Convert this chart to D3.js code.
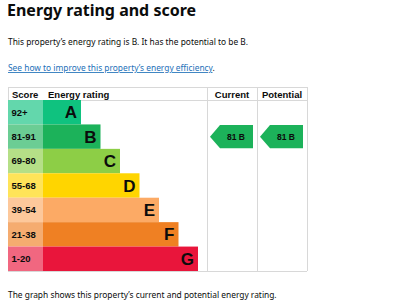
<!DOCTYPE html>
<html>
<head>
<meta charset="utf-8">
<script src="https://cdn.jsdelivr.net/npm/d3@7"></script>
<style>
  body { margin: 0; background: #fff; }
  svg { display: block; }
</style>
</head>
<body>
<svg id="chart" width="399" height="300"></svg>
<script>
const ratings = ["A", "B", "C", "D", "E", "F", "G"];
const scoreRanges = ["92+", "81-91", "69-80", "55-68", "39-54", "21-38", "1-20"];
const bandColors = ["#0fc27f", "#1cb25a", "#8dce46", "#ffd500", "#fcaa65", "#ef8023", "#e9153b"];
const columns = ["Current", "Potential"];
const currentScore = 81;
const potentialScore = 81;
const scoreMins = [92, 81, 69, 55, 39, 21, 1];

const svg = d3.select("#chart");
const font = "'Liberation Sans', Arial, sans-serif";
const bodyFont = "'Noto Sans', sans-serif";

// page text
svg.append("text")
    .attr("x", 7).attr("y", 16)
    .style("font", "bold 16px " + bodyFont)
    .attr("fill", "#0b0c0c")
    .text("Energy rating and score");

svg.append("text")
    .attr("x", 8).attr("y", 45)
    .style("font", "8.4px " + bodyFont)
    .attr("fill", "#0b0c0c")
    .text("This property\u2019s energy rating is B. It has the potential to be B.");

const link = svg.append("text")
    .attr("x", 8).attr("y", 71)
    .style("font", "8.4px " + bodyFont);
link.append("tspan")
    .attr("fill", "#1d70b8")
    .attr("text-decoration", "underline")
    .text("See how to improve this property\u2019s energy efficiency");
link.append("tspan").attr("fill", "#0b0c0c").text(".");

svg.append("text")
    .attr("x", 8).attr("y", 298)
    .style("font", "8.4px " + bodyFont)
    .attr("fill", "#0b0c0c")
    .text("The graph shows this property\u2019s current and potential energy rating.");

// table geometry
const left = 8, scoreRight = 43, ratingRight = 207, tableRight = 307;
const headTop = 87, headBottom = 100, bottom = 271;

const y = d3.scaleBand().domain(ratings).range([headBottom, bottom]);
const barW = d3.scaleLinear().domain([0, ratings.length - 1]).range([38, 155]);
const col = d3.scaleBand().domain(columns).range([ratingRight, tableRight]);
const lighten = c => d3.interpolateRgb(c, "#fff")(0.35);

const grid = svg.append("g").attr("stroke", "#d8d8d8").attr("stroke-width", 1);
[headTop, headBottom, bottom].forEach(v => grid.append("line")
    .attr("x1", left).attr("x2", tableRight).attr("y1", v + 0.5).attr("y2", v + 0.5));
[left, ratingRight, ratingRight + col.bandwidth(), tableRight].forEach(v => grid.append("line")
    .attr("x1", v + 0.5).attr("x2", v + 0.5).attr("y1", headTop).attr("y2", bottom));

// header
const head = svg.append("g").style("font", "bold 9.5px " + font).attr("fill", "#0b0c0c");
head.append("text").attr("x", 12).attr("y", 97.5).text("Score");
head.append("text").attr("x", 48).attr("y", 97.5).text("Energy rating");
head.selectAll(".col").data(columns).enter().append("text")
    .attr("x", d => col(d) + col.bandwidth() / 2)
    .attr("y", 97.5)
    .attr("text-anchor", "middle")
    .text(d => d);

// rows
const rows = svg.selectAll(".row").data(ratings).enter().append("g")
    .attr("transform", d => `translate(0,${y(d)})`);

rows.append("rect")
    .attr("x", left).attr("width", scoreRight - left)
    .attr("height", y.bandwidth())
    .attr("fill", (d, i) => lighten(bandColors[i]));

rows.append("rect")
    .attr("x", scoreRight)
    .attr("width", (d, i) => barW(i))
    .attr("height", y.bandwidth())
    .attr("fill", (d, i) => bandColors[i]);

rows.append("text")
    .attr("x", 11.5).attr("y", y.bandwidth() / 2)
    .attr("dy", "0.35em")
    .style("font", "bold 9.5px " + font)
    .attr("fill", "#0b0c0c")
    .text((d, i) => scoreRanges[i]);

rows.append("text")
    .attr("x", (d, i) => scoreRight + barW(i) - 4)
    .attr("y", y.bandwidth() / 2)
    .attr("dy", "0.36em")
    .attr("text-anchor", "end")
    .style("font", "bold 17px " + font)
    .attr("fill", "#0b0c0c")
    .text(d => d);

// arrows
const bandOf = s => ratings[scoreMins.findIndex(m => s >= m)];
const arrows = [
    { column: "Current", score: currentScore },
    { column: "Potential", score: potentialScore }
];
const arrowG = svg.selectAll(".arrow").data(arrows).enter().append("g")
    .attr("transform", d => `translate(${col(d.column)},${y(bandOf(d.score))})`);

arrowG.append("path")
    .attr("d", () => {
        const h = y.bandwidth(), x0 = 3, x1 = col.bandwidth() - 4, tip = 10;
        return `M${x0},${h / 2}L${x0 + tip},0.5L${x1},0.5L${x1},${h - 0.5}L${x0 + tip},${h - 0.5}Z`;
    })
    .attr("fill", d => bandColors[ratings.indexOf(bandOf(d.score))]);

arrowG.append("text")
    .attr("x", col.bandwidth() / 2 + 4)
    .attr("y", y.bandwidth() / 2)
    .attr("dy", "0.35em")
    .attr("text-anchor", "middle")
    .style("font", "bold 8.5px " + font)
    .attr("fill", "#0b0c0c")
    .text(d => `${d.score} ${bandOf(d.score)}`);
</script>
</body>
</html>
